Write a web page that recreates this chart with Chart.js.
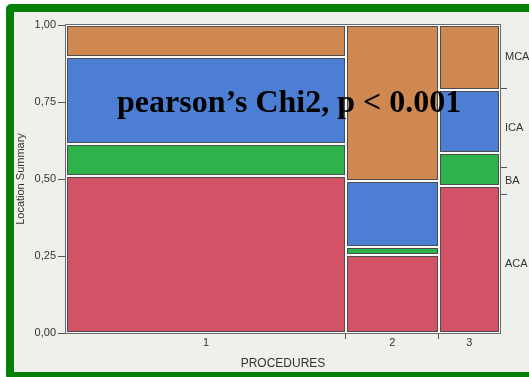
<!DOCTYPE html>
<html>
<head>
<meta charset="utf-8">
<script src="https://cdn.jsdelivr.net/npm/chart.js@4.4.1/dist/chart.umd.min.js"></script>
<style>
    html, body { margin: 0; padding: 0; background: #fff; }
    body { width: 529px; height: 377px; overflow: hidden; position: relative; }
    #panel {
        position: absolute; left: 6px; top: 4px;
        width: 540px; height: 360px;
        border: 8px solid #067f06; border-radius: 5px;
        background: #efefeb;
    }
    #mosaic { position: absolute; left: 14px; top: 12px; }
    #stat {
        position: absolute; left: 117px; top: 85px;
        font: bold 32px/32px 'Liberation Serif', 'Times New Roman', serif;
        color: #000; white-space: nowrap;
    }
</style>
</head>
<body>
<div id="panel"></div>
<canvas id="mosaic" width="515" height="360"></canvas>
<div id="stat">pearson’s Chi2, p &lt; 0.001</div>
<script>
const procedures = ['1', '2', '3'];
const procedureShare = [0.645, 0.214, 0.141];
const locations = ['ACA', 'BA', 'ICA', 'MCA'];
// share of each location inside a procedure column, stacked bottom to top
const acaShare = [0.510, 0.252, 0.477];
const baShare = [0.104, 0.026, 0.106];
const icaShare = [0.282, 0.214, 0.206];
const mcaShare = [0.104, 0.508, 0.211];
const yTicks = [0, 0.25, 0.5, 0.75, 1];

const locationShares = [acaShare, baShare, icaShare, mcaShare];
const locationColor = {
    ACA: '#d25366',
    BA: '#2eb34a',
    ICA: '#4c7ed3',
    MCA: '#cf884f',
};

// column edges along x and tiles for every procedure/location pair
const columnEdges = [0];
procedureShare.forEach((share) => columnEdges.push(columnEdges[columnEdges.length - 1] + share));

const tiles = [];
procedures.forEach((proc, i) => {
    let base = 0;
    locations.forEach((loc, j) => {
        const h = locationShares[j][i];
        tiles.push({ x0: columnEdges[i], x1: columnEdges[i + 1], y0: base, y1: base + h, color: locationColor[loc] });
        base += h;
    });
});

// overall location shares for the right-hand axis
const locationTotals = locations.map((loc, j) =>
    procedureShare.reduce((sum, share, i) => sum + share * locationShares[j][i], 0));
const rightEdges = [0];
locationTotals.forEach((t) => rightEdges.push(rightEdges[rightEdges.length - 1] + t));

const xBoundaries = columnEdges.slice(1, -1);
const xLabels = new Map(procedures.map((p, i) => [(columnEdges[i] + columnEdges[i + 1]) / 2, p]));
const rightBoundaries = rightEdges.slice(1, -1);
const rightLabels = new Map(locations.map((l, j) => [(rightEdges[j] + rightEdges[j + 1]) / 2, l]));

function tickList(boundaries, labels) {
    return [...boundaries, ...labels.keys()].sort((a, b) => a - b).map((value) => ({ value }));
}

const mosaicPlugin = {
    id: 'mosaicTiles',
    beforeDatasetsDraw(chart) {
        const { ctx, chartArea, scales } = chart;
        const x = scales.x;
        const y = scales.y;
        ctx.save();
        ctx.fillStyle = '#fafafa';
        ctx.fillRect(chartArea.left, chartArea.top, chartArea.width, chartArea.height);
        ctx.lineWidth = 1;
        ctx.strokeStyle = '#6a6a6a';
        ctx.strokeRect(chartArea.left - 0.5, chartArea.top - 0.5, chartArea.width + 1, chartArea.height + 1);
        tiles.forEach((tile) => {
            const left = Math.round(x.getPixelForValue(tile.x0));
            const right = Math.round(x.getPixelForValue(tile.x1));
            const top = Math.round(y.getPixelForValue(tile.y1));
            const bottom = Math.round(y.getPixelForValue(tile.y0));
            ctx.fillStyle = tile.color;
            ctx.fillRect(left + 1, top + 1, right - left - 2, bottom - top - 2);
            ctx.strokeStyle = '#4d4d4d';
            ctx.strokeRect(left + 1.5, top + 1.5, right - left - 3, bottom - top - 3);
        });
        ctx.restore();
    },
};

Chart.defaults.font.family = "'Liberation Sans', Arial, sans-serif";
Chart.defaults.font.size = 11;
Chart.defaults.color = '#333';

new Chart(document.getElementById('mosaic'), {
    type: 'scatter',
    data: { datasets: [] },
    plugins: [mosaicPlugin],
    options: {
        responsive: false,
        animation: false,
        layout: { padding: { top: 13, left: 0, right: 0, bottom: 0 } },
        plugins: { legend: { display: false }, tooltip: { enabled: false } },
        scales: {
            x: {
                type: 'linear',
                display: true,
                position: 'bottom',
                min: 0,
                max: 1,
                afterBuildTicks: (axis) => { axis.ticks = tickList(xBoundaries, xLabels); },
                afterFit: (axis) => { axis.height = 39; },
                ticks: {
                    autoSkip: false,
                    maxRotation: 0,
                    padding: -3,
                    callback: (value) => xLabels.get(value) ?? '',
                },
                grid: {
                    drawOnChartArea: false,
                    tickLength: 6,
                    tickColor: (c) => (xBoundaries.includes(c.tick?.value) ? '#555' : 'rgba(0,0,0,0)'),
                },
                border: { display: false },
                title: { display: true, text: 'PROCEDURES', font: { size: 12 }, padding: { top: 0, bottom: 1 } },
            },
            y: {
                type: 'linear',
                display: true,
                position: 'left',
                min: 0,
                max: 1,
                afterBuildTicks: (axis) => { axis.ticks = yTicks.map((value) => ({ value })); },
                afterFit: (axis) => { axis.width = 52; },
                ticks: {
                    padding: 2,
                    callback: (value) => value.toFixed(2).replace('.', ','),
                },
                grid: { drawOnChartArea: false, tickLength: 8, tickColor: '#555' },
                border: { display: false },
                title: { display: true, text: 'Location Summary', padding: 0 },
            },
            y2: {
                type: 'linear',
                display: true,
                position: 'right',
                min: 0,
                max: 1,
                afterBuildTicks: (axis) => { axis.ticks = tickList(rightBoundaries, rightLabels); },
                afterFit: (axis) => { axis.width = 29; },
                ticks: {
                    autoSkip: false,
                    padding: -2,
                    callback: (value) => rightLabels.get(value) ?? '',
                },
                grid: {
                    drawOnChartArea: false,
                    tickLength: 7,
                    tickColor: (c) => (rightBoundaries.includes(c.tick?.value) ? '#555' : 'rgba(0,0,0,0)'),
                },
                border: { display: false },
            },
        },
    },
});
</script>
</body>
</html>
